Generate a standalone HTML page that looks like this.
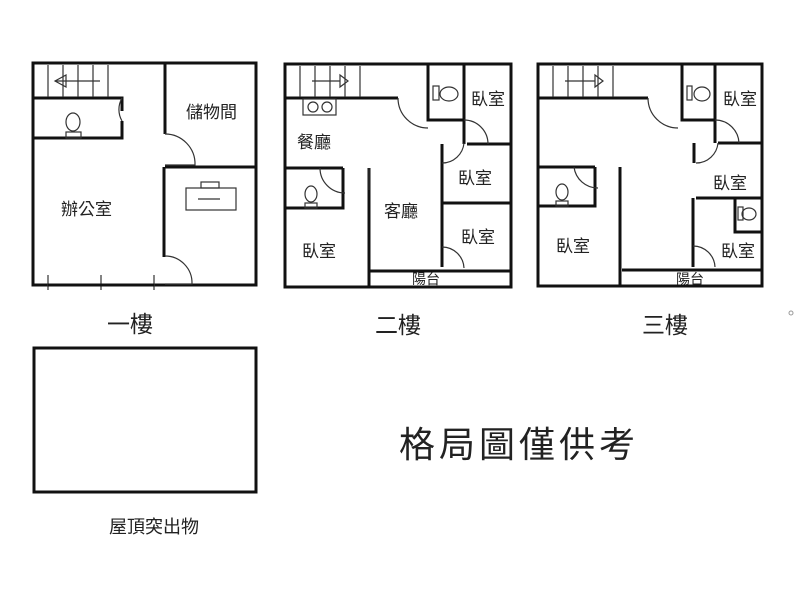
<!DOCTYPE html>
<html><head><meta charset="utf-8"><style>
html,body{margin:0;padding:0;background:#fff;width:800px;height:600px;overflow:hidden}
text{font-family:"Liberation Sans","Noto Sans CJK TC",sans-serif;fill:#222}
</style></head><body>
<svg width="800" height="600" viewBox="0 0 800 600" xmlns="http://www.w3.org/2000/svg">
<g fill="none" stroke="#111" stroke-width="3">
<rect x="33" y="63" width="223" height="222"/>
<path d="M33 98H122V111M122 121V138H33M165 63V134M165 167H257M164 167V257"/>
<rect x="285" y="64" width="226" height="223"/>
<path d="M285 98H398M428 64V120H464M464 64V144M467 144H511M442 144V160M442 160V203M442 203H511M442 203V267M370 271H511M285 168H343M343 168V208H285M369 168V287M343 168V175"/>
<rect x="538" y="64" width="224" height="222"/>
<path d="M538 98H648M682 64V120H715M715 64V143M718 143H762M694 143V163M696 198H762M735 198V232H762M693 198V267M622 270H762M538 167H595M595 167V206H538M620 167V286"/>
<rect x="34" y="348" width="222" height="144"/>
</g>
<g fill="none" stroke="#333" stroke-width="1.2">
<path d="M48 65V97M63 65V97M78 65V97M93 65V97M108 65V97M55 81H100"/>
<path d="M55 81L66 75V87Z"/>
<path d="M122 98A23 23 0 0 0 122 121"/>
<path d="M165 134A30 30 0 0 1 195 165H165"/>
<path d="M165 256A27 27 0 0 1 192 284H165"/>
<rect x="186" y="188" width="50" height="22"/>
<rect x="201" y="182" width="18" height="6"/>
<path d="M198 199H220"/>
<ellipse cx="73" cy="122" rx="7" ry="9"/>
<rect x="66" y="132" width="15" height="6"/>
<path d="M48 275V290M101 275V290M154 275V290"/>
<path d="M300 66V97M315 66V97M330 66V97M345 66V97M360 66V97M312 81H340M340 75L348 81L340 87Z"/>
<rect x="303" y="99" width="33" height="16"/>
<circle cx="313" cy="107" r="5"/><circle cx="327" cy="107" r="5"/>
<path d="M398 98A30 30 0 0 0 428 128"/>
<path d="M464 120A24 24 0 0 1 488 144"/>
<path d="M442 163A22 22 0 0 0 464 143"/>
<path d="M442 247A22 22 0 0 1 464 268"/>
<path d="M320 168A25 25 0 0 0 345 193M369 168V190"/>
<ellipse cx="311" cy="194" rx="6" ry="8"/><rect x="305" y="203" width="12" height="5"/>
<ellipse cx="449" cy="94" rx="9" ry="7"/><rect x="433" y="86" width="6" height="14"/>
<path d="M553 66V97M568 66V97M583 66V97M598 66V97M613 66V97M565 81H595M595 75L603 81L595 87Z"/>
<path d="M648 98A30 30 0 0 0 678 128"/>
<path d="M715 120A24 24 0 0 1 739 143"/>
<path d="M696 163A22 22 0 0 0 718 143"/>
<path d="M693 246A22 22 0 0 1 715 267"/>
<path d="M574 167A24 24 0 0 0 598 188"/>
<ellipse cx="562" cy="192" rx="6" ry="8"/><rect x="556" y="201" width="12" height="5"/>
<ellipse cx="702" cy="94" rx="8" ry="7"/><rect x="687" y="86" width="5" height="14"/>
<ellipse cx="749" cy="214" rx="7" ry="6"/><rect x="738" y="207" width="5" height="13"/>
</g>
<path d="M48 285H154" stroke="#111" stroke-width="3"/>
<g font-size="17">
<text x="186" y="118">儲物間</text>
<text x="61" y="215">辦公室</text>
<text x="297" y="148">餐廳</text>
<text x="384" y="217">客廳</text>
<text x="471" y="105">臥室</text>
<text x="458" y="184">臥室</text>
<text x="461" y="243">臥室</text>
<text x="302" y="257">臥室</text>
<text x="723" y="105">臥室</text>
<text x="713" y="189">臥室</text>
<text x="721" y="257">臥室</text>
<text x="556" y="252">臥室</text>
</g>
<g font-size="14">
<text x="412" y="284">陽台</text>
<text x="676" y="284">陽台</text>
</g>
<g font-size="23">
<text x="107" y="332">一樓</text>
<text x="375" y="333">二樓</text>
<text x="642" y="333">三樓</text>
</g>
<text x="109" y="533" font-size="18">屋頂突出物</text>
<text x="399" y="457" font-size="36" letter-spacing="4">格局圖僅供考</text>
<circle cx="791" cy="313" r="2" fill="none" stroke="#999"/>
</svg>
</body></html>
